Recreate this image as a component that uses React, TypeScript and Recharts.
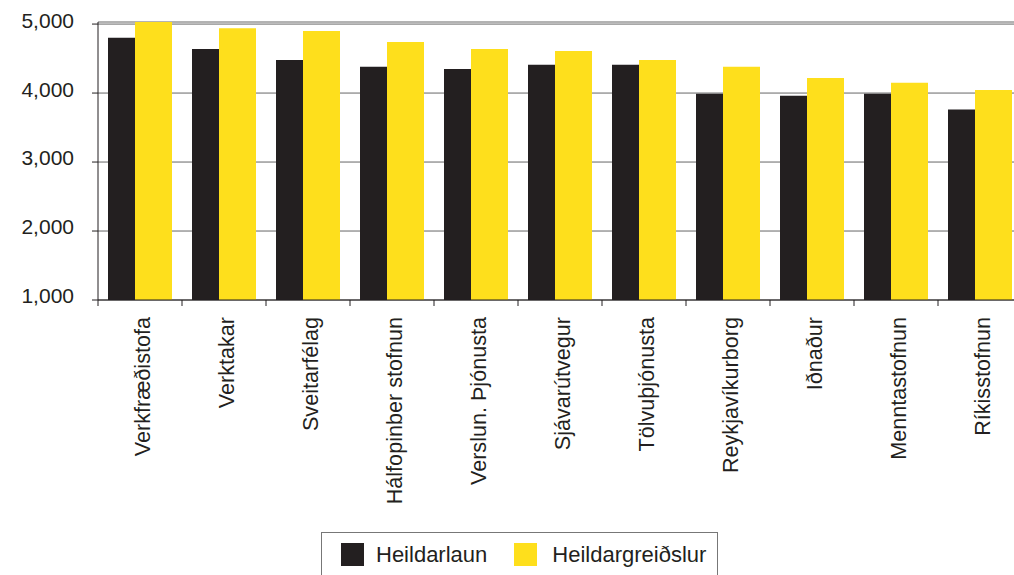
import React from "react";
import { BarChart, Bar, XAxis, YAxis, CartesianGrid } from "recharts";

const categories = [
  "Verkfræðistofa",
  "Verktakar",
  "Sveitarfélag",
  "Hálfopinber stofnun",
  "Verslun. Þjónusta",
  "Sjávarútvegur",
  "Tölvuþjónusta",
  "Reykjavíkurborg",
  "Iðnaður",
  "Menntastofnun",
  "Ríkisstofnun",
];
const heildarlaun = [4800, 4640, 4480, 4380, 4350, 4410, 4410, 3990, 3960, 3990, 3760];
const heildargreidslur = [5030, 4940, 4900, 4740, 4640, 4610, 4480, 4380, 4220, 4150, 4045];
const yTicks = [1000, 2000, 3000, 4000, 5000];
const seriesNames = ["Heildarlaun", "Heildargreiðslur"];

const COLORS = ["#231F20", "#FEDF1C"];
const TEXT = "#231F20";
const FONT = "'Liberation Sans', Arial, Helvetica, sans-serif";

const data = categories.map((name, i) => ({
  name,
  laun: heildarlaun[i],
  greidslur: heildargreidslur[i],
}));

// category label rotated, tick marks sit on the band edges
const CategoryTick = (props: any) => {
  const { x, y, payload } = props;
  const half = payload?.offset ?? 42;
  const ly = y + 17;
  return (
    <g>
      <line x1={x - half} y1={y} x2={x - half} y2={y + 6} stroke={TEXT} strokeWidth={1} />
      <text
        x={x + 10}
        y={ly}
        transform={`rotate(-90, ${x + 10}, ${ly})`}
        textAnchor="end"
        fontSize={21.6}
        fontFamily={FONT}
        fill={TEXT}
      >
        {payload.value}
      </text>
    </g>
  );
};

const App: React.FC = () => {
  return (
    <div
      style={{
        position: "absolute",
        left: 0,
        top: 0,
        width: 1014,
        height: 575,
        overflow: "hidden",
        background: "#fff",
      }}
    >
      <BarChart
        width={1030}
        height={600}
        data={data}
        margin={{ top: 22, right: 8, left: 0, bottom: 0 }}
        barGap={0}
      >
        <CartesianGrid vertical={false} stroke="#666" strokeWidth={1} />
        <XAxis
          dataKey="name"
          height={300}
          interval={0}
          tickSize={0}
          tickMargin={0}
          tickLine={false}
          axisLine={{ stroke: TEXT }}
          tick={<CategoryTick />}
        />
        <YAxis
          width={98}
          domain={[1000, 5000]}
          ticks={yTicks}
          tickFormatter={(v: number) => v.toLocaleString("en-US")}
          tickSize={6}
          tickMargin={18}
          axisLine={{ stroke: TEXT }}
          tickLine={{ stroke: TEXT }}
          tick={{ fill: TEXT, fontSize: 21, fontFamily: FONT, dy: -4 }}
        />
        <Bar dataKey="laun" name={seriesNames[0]} fill={COLORS[0]} barSize={27} isAnimationActive={false} />
        <Bar dataKey="greidslur" name={seriesNames[1]} fill={COLORS[1]} barSize={37} isAnimationActive={false} />
      </BarChart>
      <div
        style={{
          position: "absolute",
          left: 321,
          top: 532,
          width: 397,
          height: 60,
          border: "1px solid #777",
          display: "flex",
          alignItems: "flex-start",
          paddingTop: 10,
          paddingLeft: 19,
          boxSizing: "border-box",
          fontFamily: FONT,
          fontSize: 22,
          color: TEXT,
        }}
      >
        {seriesNames.map((s, i) => (
          <div key={s} style={{ display: "flex", alignItems: "center", marginRight: 27 }}>
            <span
              style={{
                display: "inline-block",
                width: 23,
                height: 23,
                background: COLORS[i],
                marginRight: i === 0 ? 12 : 15,
              }}
            />
            <span style={{ lineHeight: "23px" }}>{s}</span>
          </div>
        ))}
      </div>
    </div>
  );
};

export default App;
